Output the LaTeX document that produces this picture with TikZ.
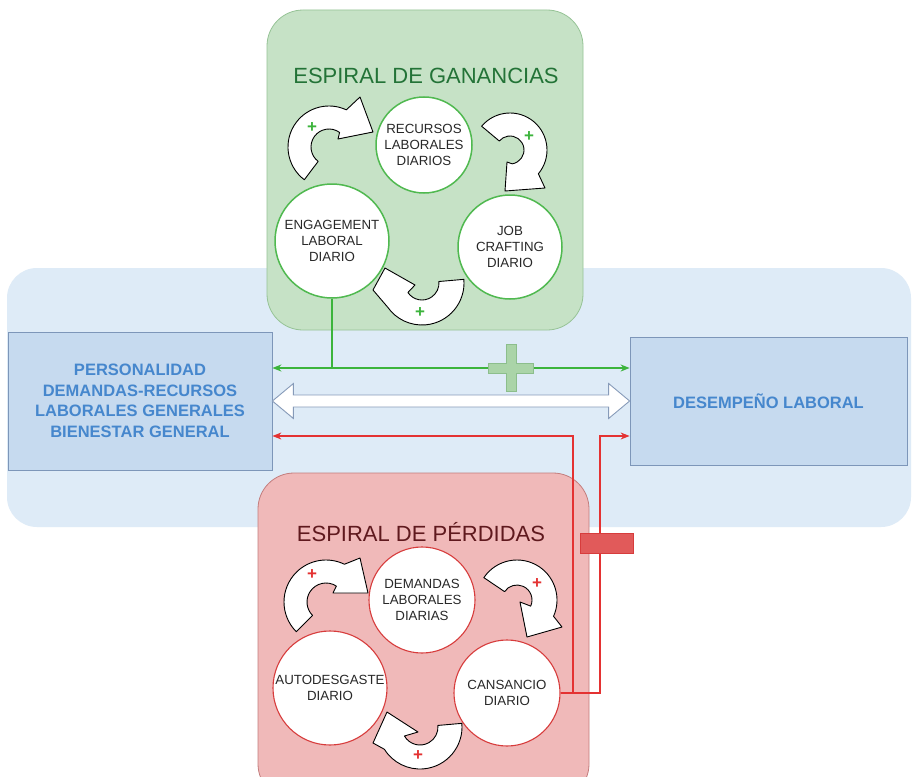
\documentclass[tikz,border=0pt]{standalone}
\usepackage{fontspec}
\setmainfont{Liberation Sans}
\usetikzlibrary{arrows.meta,calc}
\definecolor{bgblue}{RGB}{222,235,247}
\definecolor{boxblue}{RGB}{198,218,239}
\definecolor{boxblueline}{RGB}{125,150,185}
\definecolor{txtblue}{RGB}{70,135,205}
\definecolor{gfill}{RGB}{198,226,198}
\definecolor{gedge}{RGB}{150,195,150}
\definecolor{gcirc}{RGB}{80,185,80}
\definecolor{gtitle}{RGB}{35,115,55}
\definecolor{gconn}{RGB}{60,180,60}
\definecolor{rfill}{RGB}{240,185,185}
\definecolor{redge}{RGB}{195,125,125}
\definecolor{rcirc}{RGB}{215,60,60}
\definecolor{rtitle}{RGB}{95,25,30}
\definecolor{rconn}{RGB}{228,50,50}
\definecolor{rmark}{RGB}{225,90,90}
\definecolor{plusg}{RGB}{170,212,168}
\definecolor{plusgline}{RGB}{140,190,140}
\definecolor{dblline}{RGB}{135,155,185}
\definecolor{ctext}{RGB}{40,40,40}
\newcommand\curvar[9]{%
  \begin{scope}[shift={#1}]
    \draw[carrow] (#4:#3) arc[start angle=#4,end angle=#5,radius=#3] -- #6 -- #7 -- #8 -- (#9:#2) arc[start angle=#9,end angle=#4,radius=#2] -- cycle;
  \end{scope}}
\begin{document}
\begin{tikzpicture}[x=1pt,y=-1pt,
  carrow/.style={draw=black,fill=white,line width=0.9pt,line join=round},
  spiralbox/.style={rounded corners=36pt,line width=0.8pt},
  sidebox/.style={draw=boxblueline,fill=boxblue,line width=0.8pt,inner sep=0pt,
     font=\fontsize{16.5}{20.5}\selectfont\bfseries,text=txtblue,align=center},
  gcircle/.style={circle,draw=gcirc,fill=white,line width=1.5pt,inner sep=-2pt,
     font=\fontsize{13.3}{16}\selectfont,text=ctext,align=center},
  rcircle/.style={circle,draw=rcirc,fill=white,line width=1.1pt,inner sep=-2pt,
     font=\fontsize{13.3}{16}\selectfont,text=ctext,align=center},
  title/.style={font=\fontsize{22}{26}\selectfont,inner sep=0pt},
  plus/.style={font=\fontsize{17}{17}\selectfont\bfseries,inner sep=0pt},
  gline/.style={draw=gconn,line width=1.6pt},
  rline/.style={draw=rconn,line width=1.1pt},
  tip/.style={-{Stealth[length=9pt,width=7pt]}},
  dbl/.style={draw=dblline,fill=white,line width=0.9pt,line join=miter}
]
\useasboundingbox (0,0) rectangle (912,776);
\fill[white] (0,0) rectangle (912,776);
% background band
\draw[fill=bgblue,draw=none,rounded corners=30pt] (7,268) rectangle (911,527);
% side boxes
\node[sidebox,minimum width=264pt,minimum height=138pt] (lbox) at (140,401)
  {PERSONALIDAD\\DEMANDAS-RECURSOS\\LABORALES GENERALES\\BIENESTAR GENERAL};
\node[sidebox,minimum width=277pt,minimum height=128pt] (rbox) at (768.5,401)
  {DESEMPEÑO LABORAL};
% spiral panels
\draw[spiralbox,fill=gfill,draw=gedge] (267,10) rectangle (583,330);
\draw[spiralbox,fill=rfill,draw=redge] (258,473) rectangle (589,800);
\node[title,text=gtitle] (gt) at (426,76) {ESPIRAL DE GANANCIAS};
\node[title,text=rtitle] (rt) at (421,532) {ESPIRAL DE PÉRDIDAS};
% green circles
\node[gcircle,minimum size=96pt] (rec) at (424,145) {RECURSOS\\LABORALES\\DIARIOS};
\node[gcircle,minimum size=114pt] (eng) at (332,241) {ENGAGEMENT\\LABORAL\\DIARIO};
\node[gcircle,minimum size=104pt] (job) at (510,247) {JOB\\CRAFTING\\DIARIO};
% red circles
\node[rcircle,minimum size=106pt] (dem) at (422,600) {DEMANDAS\\LABORALES\\DIARIAS};
\node[rcircle,minimum size=114pt] (aut) at (330,688) {AUTODESGASTE\\DIARIO};
\node[rcircle,minimum size=106pt] (cans) at (507,693) {CANSANCIO\\DIARIO};
% curved arrows (green panel)
\curvar{(329,147)}{18}{41}{127}{295}{(31,-50)}{(44,-15)}{(9,-8)}{306}
\curvar{(510,150)}{14}{37}{220}{400}{(35,38)}{(-5,41)}{(-3,12)}{441}
\curvar{(422,283)}{17}{42}{-5}{145}{(-49,7)}{(-37,-15)}{(-7,2)}{146}
% curved arrows (red panel)
\curvar{(326,602)}{19}{42}{135}{296}{(34,-44)}{(42,-9)}{(7,-9)}{303}
\curvar{(517,600)}{15}{40}{214}{384}{(45,27)}{(10,37)}{(3,2)}{384}
\curvar{(420,727)}{18}{42}{-5}{148}{(-47,16)}{(-33,-15)}{(-2,5)}{150}
% plus signs
\node[plus,text=gconn] (gp1) at (312,128) {+};
\node[plus,text=gconn] (gp2) at (529,137) {+};
\node[plus,text=gconn] (gp3) at (420,313) {+};
\node[plus,text=rconn] (rp1) at (312,575) {+};
\node[plus,text=rconn] (rp2) at (537,584) {+};
\node[plus,text=rconn] (rp3) at (418,756) {+};
% connectors
\coordinate (gy) at (0,368);
\coordinate (wy) at (0,401);
\coordinate (ry) at (0,436);
\coordinate (rx1) at (573,0);
\coordinate (rx2) at (600,0);
\draw[gline] (eng.south) -- (eng.south |- gy);
\draw[gline,{Stealth[length=9pt,width=7pt]}-{Stealth[length=9pt,width=7pt]}] (lbox.east |- gy) -- (rbox.west |- gy);
\draw[rline,tip] (cans.east) -- (rx1 |- cans.east) -- (rx1 |- ry) -- (lbox.east |- ry);
\draw[rline,tip] (cans.east) -- (rx2 |- cans.east) -- (rx2 |- ry) -- (rbox.west |- ry);
% white double arrow
\coordinate (wa) at (lbox.east |- wy);
\coordinate (wb) at (rbox.west |- wy);
\draw[dbl] (wa) -- ($(wa)+(21,-17.5)$) -- ($(wa)+(21,-6)$) -- ($(wb)+(-21,-6)$) -- ($(wb)+(-21,-17.5)$) -- (wb)
  -- ($(wb)+(-21,17.5)$) -- ($(wb)+(-21,6)$) -- ($(wa)+(21,6)$) -- ($(wa)+(21,17.5)$) -- cycle;
% green plus marker
\begin{scope}[shift={(511,368)}]
\draw[fill=plusg,draw=plusgline,line width=0.8pt] (-5,-23.5) -- (5,-23.5) -- (5,-5) -- (22.5,-5) -- (22.5,5) -- (5,5) -- (5,23.5) -- (-5,23.5) -- (-5,5) -- (-22.5,5) -- (-22.5,-5) -- (-5,-5) -- cycle;
\end{scope}
% red minus marker
\node[draw=rcirc,fill=rmark,line width=0.6pt,minimum width=53pt,minimum height=20pt,inner sep=0pt] (rminus) at (606.5,543) {};
\end{tikzpicture}
\end{document}
